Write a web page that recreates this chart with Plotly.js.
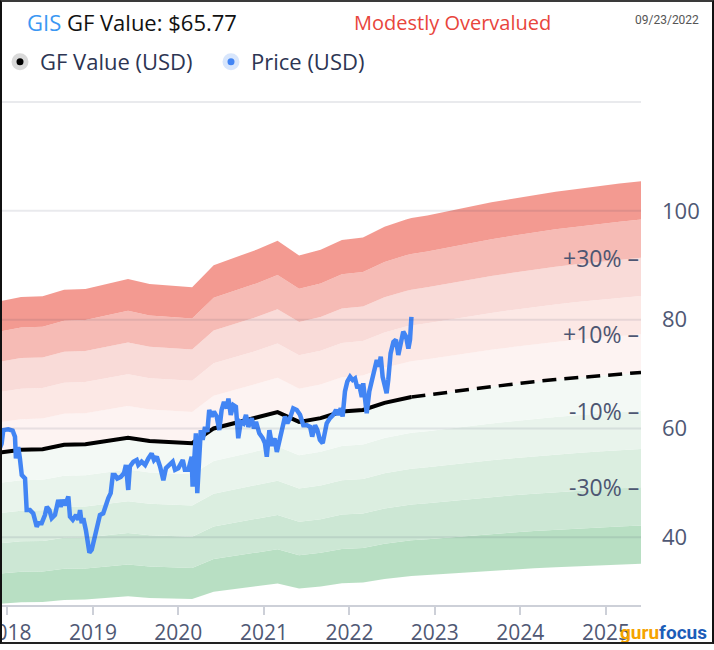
<!DOCTYPE html>
<html>
<head>
<meta charset="utf-8">
<script src="https://cdn.plot.ly/plotly-3.0.1.min.js"></script>
<style>
  html, body { margin: 0; padding: 0; background: #fff; }
  #wrap { position: relative; width: 714px; height: 650px; }
  #chart { position: absolute; left: 0; top: 0; width: 714px; height: 650px; }
  #frame { position: absolute; left: 0; top: 0; width: 714px; height: 644px; box-sizing: border-box;
           border-left: 2px solid #111; border-top: 2px solid #3a3a3a; border-right: 2px solid #111; border-bottom: 2px solid #222;
           pointer-events: none; }
</style>
</head>
<body>
<div id="wrap"><div id="chart"></div><div id="frame"></div></div>
<script>
// ---------------- data ----------------
const ticker = 'GIS';
const gfValueNow = 65.77;
const verdict = 'Modestly Overvalued';
const asOfDate = '09/23/2022';

const gfDates = ['2017-11-30','2018-02-28','2018-05-31','2018-08-31','2018-11-30','2019-02-28','2019-05-31','2019-08-31',
  '2019-11-30','2020-02-29','2020-05-31','2020-08-31','2020-11-30','2021-02-28','2021-05-31','2021-08-31','2021-11-30',
  '2022-02-28','2022-05-31','2022-08-31','2022-09-23'];
const gfValues = [55.6,56.1,56.2,57.0,57.1,57.7,58.3,57.7,57.5,57.3,60.0,61.0,61.9,63.0,61.2,61.9,63.1,63.4,64.7,65.6,65.77];

const projDates = ['2022-09-23','2022-11-30','2023-02-28','2023-05-31','2023-08-31','2023-11-30','2024-02-29','2024-05-31',
  '2024-08-31','2024-11-30','2025-02-28','2025-05-31'];
const projValues = [65.77,66.1,66.65,67.2,67.7,68.15,68.6,69.0,69.35,69.7,70.0,70.3];

const priceDates = ['2017-11-30','2017-12-07','2017-12-14','2017-12-21','2018-01-04','2018-01-23','2018-02-02','2018-02-06',
  '2018-02-16','2018-02-23','2018-03-03','2018-03-17','2018-03-24','2018-04-07','2018-04-21','2018-05-06','2018-05-13',
  '2018-05-27','2018-06-10','2018-06-18','2018-06-29','2018-07-09','2018-07-23','2018-08-06','2018-08-16','2018-08-25',
  '2018-09-04','2018-09-18','2018-09-25','2018-10-07','2018-10-21','2018-10-31','2018-11-07','2018-11-14','2018-11-21',
  '2018-12-02','2018-12-08','2018-12-17','2018-12-27','2019-01-06','2019-01-17','2019-01-31','2019-02-14','2019-02-26',
  '2019-03-08','2019-03-18','2019-03-27','2019-04-05','2019-04-15','2019-04-30','2019-05-14','2019-05-22','2019-06-01',
  '2019-06-08','2019-06-23','2019-07-07','2019-07-14','2019-07-28','2019-08-12','2019-08-26','2019-09-09','2019-09-19',
  '2019-10-01','2019-10-15','2019-10-29','2019-11-09','2019-11-23','2019-12-08','2019-12-18','2020-01-01','2020-01-20',
  '2020-01-29','2020-02-13','2020-02-20','2020-02-27','2020-03-02','2020-03-09','2020-03-16','2020-03-22','2020-03-29',
  '2020-04-06','2020-04-14','2020-04-24','2020-05-04','2020-05-12','2020-05-23','2020-06-01','2020-06-13','2020-06-24',
  '2020-07-04','2020-07-14','2020-07-26','2020-08-02','2020-08-12','2020-08-23','2020-09-03','2020-09-13','2020-09-24',
  '2020-10-05','2020-10-16','2020-10-26','2020-11-10','2020-11-19','2020-11-28','2020-12-12','2020-12-27','2021-01-05',
  '2021-01-13','2021-01-24','2021-02-05','2021-02-15','2021-02-25','2021-03-08','2021-03-22','2021-04-01','2021-04-11',
  '2021-04-22','2021-05-06','2021-05-21','2021-06-04','2021-06-18','2021-07-03','2021-07-17','2021-07-26','2021-08-07',
  '2021-08-17','2021-08-28','2021-09-09','2021-09-16','2021-09-26','2021-10-10','2021-10-24','2021-11-05','2021-11-15',
  '2021-11-25','2021-12-03','2021-12-13','2021-12-23','2022-01-04','2022-01-15','2022-01-25','2022-02-04','2022-02-12',
  '2022-02-23','2022-03-01','2022-03-09','2022-03-16','2022-03-27','2022-04-06','2022-04-16','2022-04-28','2022-05-07',
  '2022-05-15','2022-05-23','2022-06-02','2022-06-09','2022-06-16','2022-06-26','2022-07-08','2022-07-19','2022-07-29',
  '2022-08-08','2022-08-19','2022-08-31','2022-09-10','2022-09-17','2022-09-23'];
const priceValues = [56.5,57.2,59.7,59.7,59.85,59.6,58.5,54.5,
  56.6,54.5,51.45,50.8,45.0,45.0,44.4,41.95,42.6,
  42.6,44.1,45.6,45.0,43.5,44.1,46.85,45.6,46.85,
  45.9,47.5,43.8,43.2,44.1,43.2,45.0,42.6,43.5,
  41.3,38.9,37.2,37.7,39.5,41.65,44.1,44.4,46.25,
  47.2,48.1,51.45,51.45,50.8,51.1,51.8,53.3,48.7,
  53.0,53.9,54.2,53.3,53.9,53.3,54.5,55.4,54.2,
  54.8,53.0,50.5,52.7,53.3,53.9,52.4,52.7,54.2,
  52.4,52.4,54.2,54.8,49.3,53.0,59.1,48.1,54.8,
  59.7,57.9,60.3,59.4,63.4,62.2,63.1,62.2,59.7,
  63.4,64.9,63.7,65.5,62.5,64.3,64.0,58.2,61.2,
  60.9,62.5,60.3,61.9,60.0,61.2,59.1,58.2,57.3,
  54.8,59.7,56.8,58.2,55.7,57.6,60.6,62.2,60.95,
  61.9,63.7,63.4,62.5,60.6,60.6,60.3,58.5,60.6,
  59.7,57.9,57.3,59.4,60.95,61.9,62.5,63.4,62.5,
  63.7,62.2,66.8,68.6,69.5,68.9,69.2,67.4,68.0,
  65.8,68.3,65.2,62.8,66.8,68.6,70.7,72.6,71.35,
  73.2,69.5,68.0,66.5,68.9,73.8,75.9,76.3,73.5,
  75.6,77.8,76.9,74.7,76.3,80.5];

const bandLevels = [0.5,0.6,0.7,0.8,0.9,1.0,1.1,1.2,1.3,1.4,1.5];
const bandColors = [null,
  'rgba(171,217,184,0.85)','rgba(195,227,204,0.85)','rgba(213,235,219,0.85)','rgba(229,242,233,0.85)','rgba(241,248,243,0.85)',
  'rgba(253,241,240,0.85)','rgba(251,228,225,0.85)','rgba(248,213,209,0.85)','rgba(244,175,168,0.85)','rgba(241,136,126,0.85)'];
const pctLabels = ['+30%','+10%','-10%','-30%'];
const pctLevels = [1.3,1.1,0.9,0.7];
const yTickVals = [40,60,80,100];
const gridVals = [40,60,80,100,120];
const xRange = ['2017-11-30','2025-05-31'];

// ---------------- build ----------------
const allDates = gfDates.concat(projDates.slice(1));
const allGF = gfValues.concat(projValues.slice(1));
const traces = [];
bandLevels.forEach((m, i) => {
  traces.push({
    x: allDates, y: allGF.map(v => v * m), type: 'scatter', mode: 'lines',
    line: {width: 0, color: 'rgba(0,0,0,0)'},
    fill: i === 0 ? 'none' : 'tonexty', fillcolor: bandColors[i] || 'rgba(0,0,0,0)',
    showlegend: false, hoverinfo: 'skip'
  });
});
traces.push({x: gfDates, y: gfValues, type: 'scatter', mode: 'lines', line: {color: '#000', width: 4}, showlegend: false});
traces.push({x: projDates, y: projValues, type: 'scatter', mode: 'lines', line: {color: '#000', width: 3.5, dash: '14px,8px'}, showlegend: false});
traces.push({x: priceDates, y: priceValues, type: 'scatter', mode: 'lines', line: {color: '#4285f4', width: 4.5}, showlegend: false});
traces.push({x: [null], y: [null], type: 'scatter', mode: 'markers', name: 'GF Value (USD)',
  marker: {color: '#000', size: 12, line: {color: '#d9d9d9', width: 5}}});
traces.push({x: [null], y: [null], type: 'scatter', mode: 'markers', name: 'Price (USD)',
  marker: {color: '#4285f4', size: 12, line: {color: '#d8e6fc', width: 5}}});

const W = 714, H = 650, mL = 0, mR = 73, mT = 100, mB = 45;
const pw = W - mL - mR, ph = H - mT - mB;
const px2x = p => (p - mL) / pw;
const px2y = p => (H - mB - p) / ph;
const lastGF = projValues[projValues.length - 1];

const annotations = [
  {xref: 'paper', yref: 'paper', x: px2x(25), y: px2y(22), xanchor: 'left', yanchor: 'middle', showarrow: false,
   text: '<span style="color:#3b97f3">' + ticker + '</span> GF Value: $' + gfValueNow.toFixed(2),
   font: {family: 'Open Sans', size: 22, color: '#111'}},
  {xref: 'paper', yref: 'paper', x: px2x(452), y: px2y(22), xanchor: 'center', yanchor: 'middle', showarrow: false,
   text: verdict, font: {family: 'Open Sans', size: 20, color: '#e8453c'}},
  {xref: 'paper', yref: 'paper', x: px2x(701), y: px2y(20), xanchor: 'right', yanchor: 'middle', showarrow: false,
   text: asOfDate, font: {family: 'Roboto', size: 12, color: '#555'}},
  {xref: 'paper', yref: 'paper', x: px2x(709), y: px2y(632), xanchor: 'right', yanchor: 'middle', showarrow: false,
   text: '<b><span style="color:#f5a300">guru</span><span style="color:#1c5db8">focus</span></b>',
   font: {family: 'Roboto', size: 19}}
];
pctLabels.forEach((t, i) => {
  annotations.push({xref: 'paper', yref: 'y', x: 1, y: lastGF * pctLevels[i], xanchor: 'right', yanchor: 'middle',
    showarrow: false, text: t + ' –', font: {family: 'Open Sans', size: 23, color: '#4d5672'}});
});

const shapes = gridVals.map(v => ({type: 'line', xref: 'paper', yref: 'y', x0: 0, x1: 1, y0: v, y1: v,
  layer: 'above', line: {color: 'rgba(40,50,80,0.10)', width: 2}}));

const layout = {
  width: W, height: H, margin: {l: mL, r: mR, t: mT, b: mB},
  paper_bgcolor: '#fff', plot_bgcolor: '#fff',
  xaxis: {type: 'date', range: xRange, showgrid: false, zeroline: false, showline: true, linecolor: '#cdd0d8', linewidth: 2,
    ticks: 'outside', ticklen: 8, tickwidth: 2, tickcolor: '#cdd0d8', tick0: '2018-01-01', dtick: 'M12', tickformat: '%Y',
    ticklabeloverflow: 'allow', tickfont: {family: 'Open Sans', size: 21, color: '#4f5874'}},
  yaxis: {side: 'right', range: [27.56, 120.36], showgrid: false, zeroline: false, showline: false,
    tickvals: yTickVals, ticks: '', ticklabelstandoff: 20, tickfont: {family: 'Open Sans', size: 22, color: '#4f5874'}},
  showlegend: true,
  legend: {orientation: 'h', traceorder: 'normal', x: 0, xanchor: 'left', y: px2y(62), yanchor: 'middle',
    entrywidth: 166, entrywidthmode: 'pixels',
    font: {family: 'Open Sans', size: 22, color: '#2d3553'}, bgcolor: 'rgba(0,0,0,0)'},
  annotations: annotations, shapes: shapes
};

Plotly.newPlot('chart', traces, layout, {displayModeBar: false, staticPlot: true});
</script>
</body>
</html>
